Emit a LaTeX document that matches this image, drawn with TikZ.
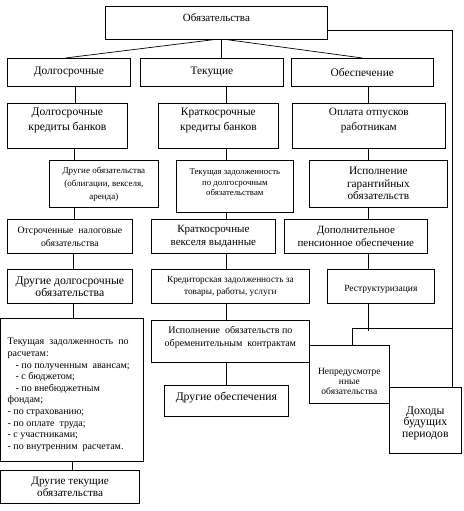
\documentclass[tikz,border=0pt]{standalone}
\usepackage{fontspec}
\setmainfont{Liberation Serif}
\newfontfamily\tnr{Liberation Serif}
\tikzset{
  bxs/.style={draw, line width=0.7pt, fill=white, inner sep=0pt, anchor=north west, font=\tnr},
  ln/.style={line width=0.7pt}
}
\newcommand{\bx}[9]{%
  \pgfmathsetmacro{\bxw}{#4-#2}%
  \pgfmathsetmacro{\bxh}{#5-#3}%
  \node[bxs, minimum width=\bxw pt, minimum height=\bxh pt] (#1) at (#2,#3)
   {\raisebox{#8pt}[\height][\depth]{\parbox{\dimexpr\bxw pt-4pt\relax}{\centering\tnr\fontsize{#6}{#7}\selectfont #9}}};%
}
\begin{document}
\begin{tikzpicture}[x=1pt,y=-1pt]
\useasboundingbox (0,0) rectangle (463,511);
% level 0/1
\bx{top}{105}{6}{327}{39}{11}{14}{5}{Обязательства}
\bx{dolg}{7}{58}{130}{86}{11.4}{14}{0}{Долгосрочные}
\bx{tek}{140}{58}{283}{86}{11.4}{14}{0}{Текущие}
\bx{obes}{291}{58}{433}{86}{11.4}{14}{0}{Обеспечение}
% row 2
\bx{dkb}{7}{103}{127}{148}{11.6}{15}{5}{Долгосрочные\\кредиты банков}
\bx{kkb}{158}{103}{278}{148}{11.4}{15}{5}{Краткосрочные\\кредиты банков}
\bx{opl}{292}{103}{445}{148}{11.2}{15}{5}{Оплата отпусков\\работникам}
% row 3
\bx{drob}{49}{160}{158}{207}{9}{13}{0}{Другие обязательства\\(облигации, векселя,\\аренда)}
\bx{tzd}{176}{160}{293}{212}{8.8}{10.5}{4}{Текущая задолженность\\по долгосрочным\\обязательствам}
\bx{isg}{309}{160}{447}{207}{11.3}{12.5}{0}{Исполнение\\гарантийных\\обязательств}
% row 4
\bx{otsr}{7}{219}{132}{253}{9.8}{13}{0}{Отсроченные\ \ налоговые\\обязательства}
\bx{kvv}{151}{219}{275}{253}{11}{13.3}{0}{Краткосрочные\\векселя выданные}
\bx{dop}{284}{219}{427}{253}{11}{13}{0}{Дополнительное\\пенсионное обеспечение}
% row 5
\bx{ddo}{7}{269}{132}{303}{11.7}{12}{0}{Другие долгосрочные\\обязательства}
\bx{kred}{151}{269}{309}{303}{9.3}{11.7}{0}{Кредиторская задолженность за\\товары, работы, услуги}
\bx{restr}{327}{269}{434}{303}{9.5}{12}{0}{\mbox{}\\Реструктуризация}
% row 6
\node[bxs, minimum width=142.5pt, minimum height=143pt] (big) at (0.5,318)
 {\raisebox{-5pt}[\height][\depth]{\parbox{129pt}{\tnr\fontsize{10}{11.6}\selectfont\raggedright
 \makebox[121pt][s]{Текущая задолженность по}\\
 расчетам:\\
 \hspace*{8pt}- по полученным\ \ авансам;\\
 \hspace*{8pt}- с бюджетом;\\
 \hspace*{8pt}- по внебюджетным\\
 фондам;\\
 - по страхованию;\\
 - по оплате\ \ труда;\\
 - с участниками;\\
 - по внутренним\ \ расчетам.}}};
\bx{ispobr}{151}{320}{309}{362}{10}{13}{4}{Исполнение\ \ обязательств по\\обременительным\ \ контрактам}
\bx{drobes}{164}{385}{288}{416}{11.7}{14}{3}{Другие обеспечения}
\bx{nepr}{309}{345}{389}{403}{9.5}{10}{-7}{Непредусмотре\\нные\\обязательства}
\bx{doh}{389}{387}{461}{453}{11.7}{11.8}{-3}{Доходы\\будущих\\периодов}
\bx{drtek}{0.5}{470}{139}{503}{11.2}{11.5}{0}{Другие текущие\\обязательства}
% connectors from top
\draw[ln] ([xshift=-3pt]top.south) -- ([xshift=-3.5pt]dolg.north);
\draw[ln] ([xshift=5pt]top.south) -- ([xshift=5pt]top.south |- tek.north);
\draw[ln] ([xshift=11pt]top.south) -- (obes.north);
\coordinate (rv) at (452,30);
\draw[ln] (top.east |- rv) -| (doh.north -| rv);
% left column
\draw[ln] (dolg.south -| 75,0) -- (dkb.north -| 75,0);
\draw[ln] (dkb.south -| 74,0) -- (drob.north -| 74,0);
\draw[ln] (drob.south -| 74,0) -- (otsr.north -| 74,0);
\draw[ln] (otsr.south -| 73,0) -- (ddo.north -| 73,0);
\draw[ln] (ddo.south -| 73,0) -- (big.north -| 73,0);
\draw[ln] (big.south -| 72,0) -- (drtek.north -| 72,0);
% centre column
\draw[ln] (tek.south -| 226,0) -- (kkb.north -| 226,0);
\draw[ln] (kkb.south -| 226,0) -- (tzd.north -| 226,0);
\draw[ln] (tzd.south -| 226,0) -- (kvv.north -| 226,0);
\draw[ln] (kvv.south -| 226,0) -- (kred.north -| 226,0);
\draw[ln] (kred.south -| 226,0) -- (ispobr.north -| 226,0);
\draw[ln] (ispobr.south -| 226,0) -- (drobes.north -| 226,0);
% right column
\draw[ln] (obes.south -| 368,0) -- (opl.north -| 368,0);
\draw[ln] (opl.south -| 368,0) -- (isg.north -| 368,0);
\draw[ln] (isg.south -| 368,0) -- (dop.north -| 368,0);
\draw[ln] (dop.south -| 368,0) -- (restr.north -| 368,0);
\coordinate (rs) at (368,331);
\coordinate (rj) at (452,328);
\draw[ln] (restr.south -| rs) -- (rs);
\draw[ln] (nepr.north -| 352,0) |- (rj);
\end{tikzpicture}
\end{document}
